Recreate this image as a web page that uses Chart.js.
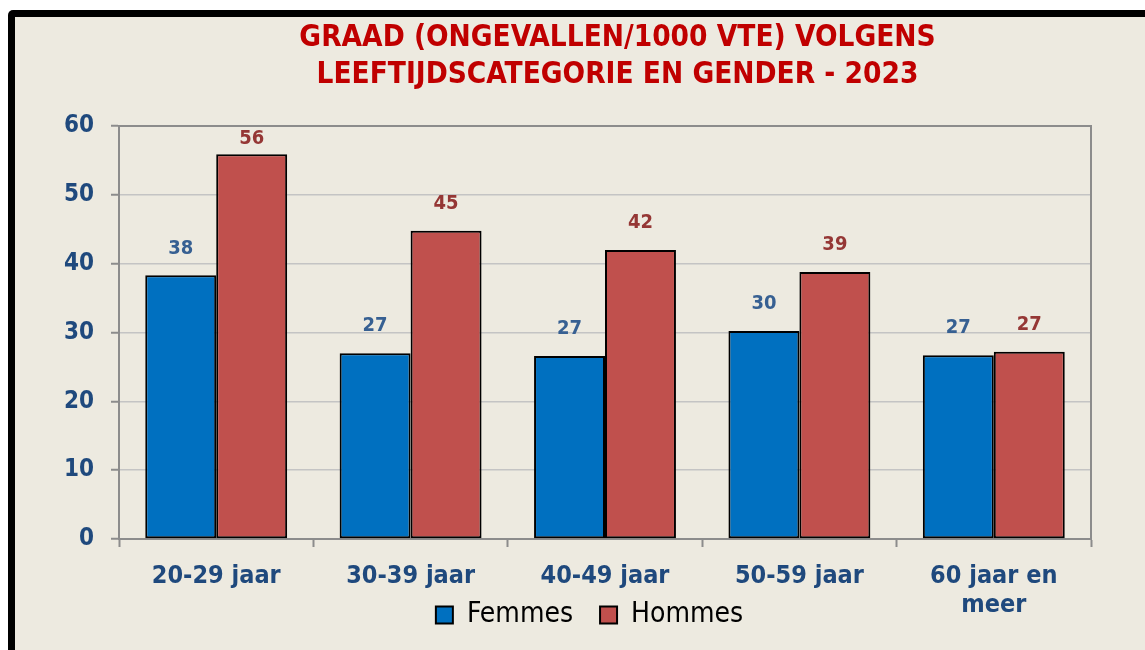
<!DOCTYPE html>
<html>
<head>
<meta charset="utf-8">
<script src="https://cdn.jsdelivr.net/npm/chart.js@4.4.1/dist/chart.umd.min.js"></script>
<style>
  html, body { margin: 0; padding: 0; background: #ffffff; }
  canvas { display: block; }
</style>
</head>
<body>
<canvas id="c" width="1145" height="650"></canvas>
<script>
const titleLines = ['GRAAD (ONGEVALLEN/1000 VTE) VOLGENS', 'LEEFTIJDSCATEGORIE EN GENDER - 2023'];
const categories = ['20-29 jaar', '30-39 jaar', '40-49 jaar', '50-59 jaar', ['60 jaar en', 'meer']];
const femmes = [38.3, 27.0, 26.6, 30.2, 26.7];
const hommes = [55.9, 44.8, 42.0, 38.8, 27.2];
const yTicks = [0, 10, 20, 30, 40, 50, 60];

const FONT = '"DejaVu Sans Condensed", "DejaVu Sans", sans-serif';
const BG = '#EDEAE0';

const framePlugin = {
  id: 'frame',
  afterLayout(chart) {
    // horizontal centring of the title and legend as in the original
    if (chart.titleBlock) { chart.titleBlock.left += 72; chart.titleBlock.right += 72; }
    if (chart.legend) { chart.legend.left += 44; chart.legend.right += 44; }
  },
  beforeDraw(chart) {
    const ctx = chart.ctx;
    ctx.save();
    ctx.fillStyle = '#ffffff';
    ctx.fillRect(0, 0, chart.width, chart.height);
    ctx.fillStyle = '#000000';
    ctx.beginPath();
    ctx.roundRect(8, 10, chart.width + 20, chart.height + 20, 5);
    ctx.fill();
    ctx.fillStyle = BG;
    ctx.fillRect(15, 17, chart.width, chart.height);
    ctx.restore();
  },
  beforeDatasetsDraw(chart) {
    const {ctx, chartArea} = chart;
    ctx.save();
    ctx.strokeStyle = '#8C8C8C';
    ctx.lineWidth = 2;
    ctx.beginPath();
    ctx.moveTo(chartArea.left, chartArea.top);
    ctx.lineTo(chartArea.right, chartArea.top);
    ctx.lineTo(chartArea.right, chartArea.bottom);
    ctx.stroke();
    ctx.restore();
  }
};

const labelPlugin = {
  id: 'valueLabels',
  afterDatasetsDraw(chart) {
    const {ctx, chartArea} = chart;
    ctx.save();
    ctx.font = 'bold 20px ' + FONT;
    ctx.textAlign = 'center';
    ctx.textBaseline = 'middle';
    chart.data.datasets.forEach((ds, i) => {
      const meta = chart.getDatasetMeta(i);
      ctx.fillStyle = ds.labelColor;
      meta.data.forEach((bar, j) => {
        let y = bar.y - 27;
        if (y < chartArea.top + 13) y = chartArea.top + 13;
        ctx.fillText(String(Math.round(ds.data[j])), bar.x, y);
      });
    });
    ctx.restore();
  }
};

new Chart(document.getElementById('c'), {
  type: 'bar',
  data: {
    labels: categories,
    datasets: [
      { label: 'Femmes', data: femmes, backgroundColor: '#0070C0', borderColor: '#000000', borderWidth: 2, borderSkipped: false, labelColor: '#376092' },
      { label: 'Hommes', data: hommes, backgroundColor: '#C0504D', borderColor: '#000000', borderWidth: 2, borderSkipped: false, labelColor: '#953735' }
    ]
  },
  options: {
    responsive: false,
    animation: false,
    devicePixelRatio: 1,
    layout: { padding: { left: 0, right: 54, top: 0, bottom: 11 } },
    datasets: { bar: { categoryPercentage: 0.73, barPercentage: 1.0 } },
    scales: {
      x: {
        afterFit(scale) {
          scale.height = 35;
          scale._computeLabelArea = () => null; // let the two-line label overflow
        },
        grid: { display: true, drawOnChartArea: false, drawTicks: true, tickLength: 8, tickColor: '#8C8C8C', tickWidth: 2, offset: true },
        border: { display: true, color: '#8C8C8C', width: 2 },
        ticks: { color: '#1F497D', font: { family: FONT, size: 25, weight: 'bold', lineHeight: 1.15 }, padding: 15, maxRotation: 0, autoSkip: false }
      },
      y: {
        min: 0, max: 60,
        afterFit(scale) { scale.width = 119; },
        afterBuildTicks(scale) { scale.ticks = yTicks.map(v => ({ value: v })); },
        grid: { color: '#C4C4C4', lineWidth: 1.5, tickLength: 8, tickColor: '#8C8C8C', tickWidth: 2 },
        border: { display: true, color: '#8C8C8C', width: 2 },
        ticks: { color: '#1F497D', font: { family: FONT, size: 24, weight: 'bold' }, padding: 17 }
      }
    },
    plugins: {
      title: {
        display: true,
        text: titleLines,
        color: '#C00000',
        font: { family: FONT, size: 29.5, weight: 'bold', lineHeight: 37 / 29.5 },
        padding: { top: 20, bottom: 32 }
      },
      legend: {
        position: 'bottom',
        labels: {
          color: '#000000',
          font: { family: FONT, size: 28 },
          boxWidth: 17, boxHeight: 17, padding: 27
        }
      },
      tooltip: { enabled: false }
    }
  },
  plugins: [framePlugin, labelPlugin]
});
</script>
</body>
</html>
